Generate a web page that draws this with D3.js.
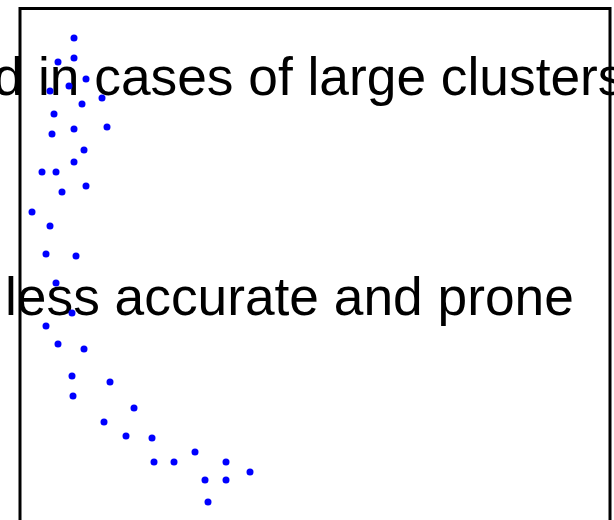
<!DOCTYPE html>
<html>
<head>
<meta charset="utf-8">
<script src="https://cdn.jsdelivr.net/npm/d3@7"></script>
<style>
html,body{margin:0;padding:0;background:#fff;overflow:hidden;}
svg{display:block;}
</style>
</head>
<body>
<script>
// point data (x, y in plot units measured from the frame's top-left)
const xValues = [54,54,38,66,49,30,82,62,34,54,87,32,64,54,22,36,66,42,12,30,26,56,36,52,26,38,64,52,90,53,114,84,106,132,175,134,154,206,230,185,206,188];
const yValues = [29.5,49.5,53.5,70.5,77.5,82.5,89.5,95.5,105.5,120.5,118.5,125.5,141.5,153.5,163.5,163.5,177.5,183.5,203.5,217.5,245.5,247.5,274.5,304.5,317.5,335.5,340.5,367.5,373.5,387.5,399.5,413.5,427.5,429.5,443.5,453.5,453.5,453.5,463.5,471.5,471.5,493.5];
const textLines = ["d in cases of large clusters", "less accurate and prone"];

const W = 614, H = 520;
const svg = d3.select("body").append("svg").attr("width", W).attr("height", H);

const x = d3.scaleLinear().domain([0, 590]).range([20, 610]);
const y = d3.scaleLinear().domain([0, 600]).range([8.5, 608.5]);

// frame
svg.append("rect")
  .attr("x", x(0)).attr("y", y(0))
  .attr("width", x(590) - x(0)).attr("height", y(600) - y(0))
  .attr("fill", "none").attr("stroke", "#000").attr("stroke-width", 3);

// texts
svg.append("text").attr("x", -6.5).attr("y", 95)
  .attr("font-family", "Liberation Sans, Arial, sans-serif").attr("font-size", 53.3)
  .attr("fill", "#000").text(textLines[0]);
svg.append("text").attr("x", 5).attr("y", 315)
  .attr("font-family", "Liberation Sans, Arial, sans-serif").attr("font-size", 53.3)
  .attr("fill", "#000").text(textLines[1]);

// points
const pts = xValues.map((v, i) => ({x: v, y: yValues[i]}));
svg.append("g").selectAll("circle").data(pts).join("circle")
  .attr("cx", d => x(d.x)).attr("cy", d => y(d.y)).attr("r", 3.5)
  .attr("fill", "#0000ff");
</script>
</body>
</html>
